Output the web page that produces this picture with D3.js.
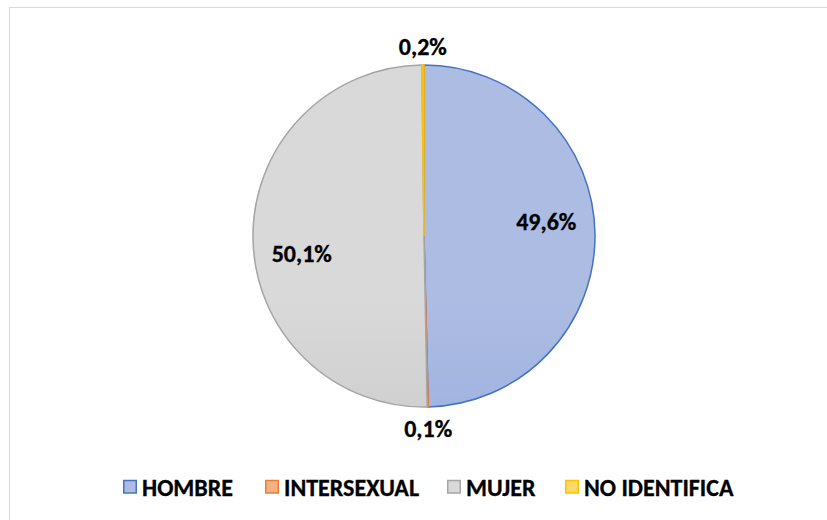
<!DOCTYPE html>
<html>
<head>
<meta charset="utf-8">
<script src="https://cdn.jsdelivr.net/npm/d3@7"></script>
<style>
  body { margin: 0; background: #fff; }
  svg { display: block; font-family: Carlito, "Open Sans", "Liberation Sans", sans-serif; }
</style>
</head>
<body>
<script>
const categories = ["HOMBRE", "INTERSEXUAL", "MUJER", "NO IDENTIFICA"];
const values = [49.6, 0.1, 50.1, 0.2];
const labels = ["49,6%", "0,1%", "50,1%", "0,2%"];

const width = 827;
const height = 520;
const cx = 424, cy = 236, radius = 171;

const fills = [
  ["#adbce3", "#88a2db"],
  ["#f4b183", "#ed7d31"],
  ["#d9d9d9", "#bcbcbc"],
  ["#ffd966", "#ffc000"]
];
const strokes = ["#4472c4", "#ed7d31", "#a5a5a5", "#ffc000"];

const svg = d3.select("body").append("svg")
  .attr("width", width)
  .attr("height", height);

svg.append("rect")
  .attr("x", 9.5).attr("y", 7.5)
  .attr("width", width).attr("height", height)
  .attr("fill", "#fff")
  .attr("stroke", "#d9d9d9");

const defs = svg.append("defs");
fills.forEach((f, i) => {
  const g = defs.append("linearGradient")
    .attr("id", "g" + i)
    .attr("gradientUnits", "userSpaceOnUse")
    .attr("x1", 0).attr("y1", cy - radius)
    .attr("x2", 0).attr("y2", cy + radius);
  g.append("stop").attr("offset", "0%").attr("stop-color", f[0]);
  g.append("stop").attr("offset", "100%").attr("stop-color", f[1]);
});

const pie = d3.pie().sort(null).value(d => d)(values);
const arc = d3.arc().innerRadius(0).outerRadius(radius);

const chart = svg.append("g").attr("transform", `translate(${cx},${cy})`);

chart.selectAll("path")
  .data(pie)
  .join("path")
  .attr("d", arc)
  .attr("fill", (d, i) => i === 3 ? fills[3][1] : `url(#g${i})`)
  .attr("stroke", (d, i) => strokes[i])
  .attr("stroke-width", 1.5);

// big slices labelled inside, tiny ones outside
const inner = d3.arc().innerRadius(radius * 0.715).outerRadius(radius * 0.715);
const outer = d3.arc().innerRadius(radius + 19).outerRadius(radius + 19);
const nudge = [-13, 3, 16, 0];

chart.selectAll("text.lbl")
  .data(pie)
  .join("text")
  .attr("class", "lbl")
  .attr("transform", (d, i) => {
    const p = (d.endAngle - d.startAngle) > 0.5 ? inner.centroid(d) : outer.centroid(d);
    return `translate(${p[0]},${p[1] + nudge[i]})`;
  })
  .attr("text-anchor", "middle")
  .attr("dominant-baseline", "central")
  .attr("font-size", 24)
  .attr("font-weight", "bold")
  .attr("fill", "#000")
  .attr("stroke", "#000")
  .attr("stroke-width", 0.3)
  .text((d, i) => labels[i]);

// legend
const legendX = [123, 265, 447, 565];
const legend = svg.append("g").attr("transform", "translate(0,487)");
const item = legend.selectAll("g")
  .data(categories)
  .join("g")
  .attr("transform", (d, i) => `translate(${legendX[i]},0)`);

item.append("rect")
  .attr("x", 0.75).attr("y", -6.5)
  .attr("width", 12.5).attr("height", 12.5)
  .attr("fill", (d, i) => fills[i][0])
  .attr("stroke", (d, i) => strokes[i])
  .attr("stroke-width", 1.5);

item.append("text")
  .attr("x", 19)
  .attr("dominant-baseline", "central")
  .attr("font-size", 24)
  .attr("font-weight", "bold")
  .attr("fill", "#000")
  .attr("stroke", "#000")
  .attr("stroke-width", 0.3)
  .text(d => d);
</script>
</body>
</html>
